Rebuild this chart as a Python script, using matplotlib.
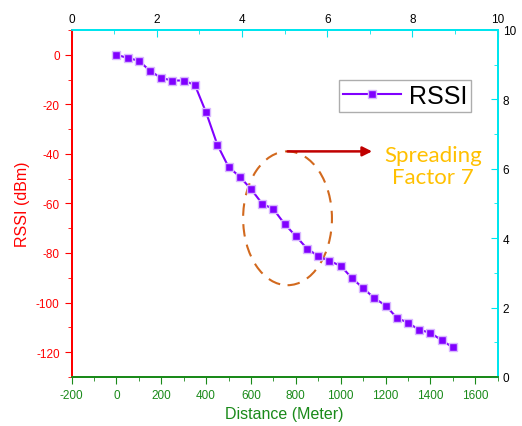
import numpy as np
import matplotlib.pyplot as plt
from matplotlib.patches import Ellipse

plt.rcParams['font.family'] = ['Liberation Sans', 'DejaVu Sans']
plt.rcParams['axes.unicode_minus'] = False

# RSSI measurements vs distance (SF7)
distance = [0, 50, 100, 150, 200, 250, 300, 350, 400, 450, 500, 550, 600, 650, 700,
            750, 800, 850, 900, 950, 1000, 1050, 1100, 1150, 1200, 1250, 1300,
            1350, 1400, 1450, 1500]
rssi = [0, -1.3, -2.4, -6.5, -9.4, -10.4, -10.4, -12.2, -23.3, -36.3, -45.3, -49.2,
        -54.2, -60.1, -62.3, -68.3, -73.2, -78.2, -81.3, -83.2, -85.2, -90.1, -94.2,
        -98.2, -101.2, -106.1, -108.2, -111, -112.2, -115.2, -118.1]

red = '#ff0000'
green = '#1a8a1a'
cyan = '#00e5ee'

fig = plt.figure(figsize=(5.22, 4.27), dpi=100)
ax = fig.add_axes([0.137, 0.115, 0.8165, 0.8125])

ax.plot(distance, rssi, color='#8000ff', lw=1.5, marker='s', markersize=5.8,
        markerfacecolor='#8000ff', markeredgecolor='#d8b8ff', markeredgewidth=1,
        label='RSSI')

ax.set_xlim(-200, 1700)
ax.set_ylim(-130, 10)
ax.set_xticks(np.arange(-200, 1601, 200))
ax.set_xticks(np.arange(-200, 1701, 100), minor=True)
ax.set_yticks(np.arange(-120, 1, 20))
ax.set_yticks(np.arange(-130, 11, 10), minor=True)

ax.set_xlabel('Distance (Meter)', color=green, fontsize=11.5)
ax.set_ylabel('RSSI (dBm)', color=red, fontsize=11.5)
ax.tick_params(axis='x', which='both', colors=green, labelsize=8.5, direction='out')
ax.tick_params(axis='y', which='both', colors=red, labelsize=8.5, direction='out')
ax.tick_params(which='major', length=5)
ax.tick_params(which='minor', length=3)

# top and right auxiliary scales
ax_top = ax.twiny()
ax_top.set_xlim(0, 10)
ax_top.set_xticks(np.arange(0, 11, 2))
ax_top.set_xticks(np.arange(0, 11, 1), minor=True)
ax_top.tick_params(axis='x', which='both', direction='in', color=cyan,
                   labelcolor='black', labelsize=8.5)
ax_top.tick_params(which='major', length=5)
ax_top.tick_params(which='minor', length=3)

ax_right = ax.twinx()
ax_right.set_ylim(0, 10)
ax_right.set_yticks(np.arange(0, 11, 2))
ax_right.set_yticks(np.arange(0, 11, 1), minor=True)
ax_right.tick_params(axis='y', which='both', direction='in', color=cyan,
                     labelcolor='black', labelsize=8.5)
ax_right.tick_params(which='major', length=5)
ax_right.tick_params(which='minor', length=3)

for a in (ax, ax_top, ax_right):
    a.spines['left'].set_color(red)
    a.spines['bottom'].set_color(green)
    a.spines['top'].set_color(cyan)
    a.spines['right'].set_color(cyan)
    for s in a.spines.values():
        s.set_linewidth(1.3)

leg = ax.legend(loc='upper right', bbox_to_anchor=(0.937, 0.855), fontsize=18,
                frameon=True, fancybox=False, handlelength=2.35, handletextpad=0.3,
                borderpad=0.15, borderaxespad=0)
leg.get_frame().set_edgecolor('#999999')
leg.get_frame().set_linewidth(1)

ell = Ellipse((763, -66), 396, 54, fill=False, edgecolor='#d2691e', lw=1.5,
              linestyle=(0, (6, 4)))
ax.add_patch(ell)

ax.annotate('', xy=(1140, -39), xytext=(763, -39),
            arrowprops=dict(arrowstyle='-|>', color='#c00000', lw=1.8,
                            mutation_scale=14, shrinkA=0, shrinkB=0))
ax.text(1412, -45, 'Spreading\nFactor 7', color='#ffc000', fontsize=16,
        family=['Lato', 'DejaVu Sans'], ha='center', va='center', linespacing=1.1)

fig.savefig('out.png', dpi=100)
